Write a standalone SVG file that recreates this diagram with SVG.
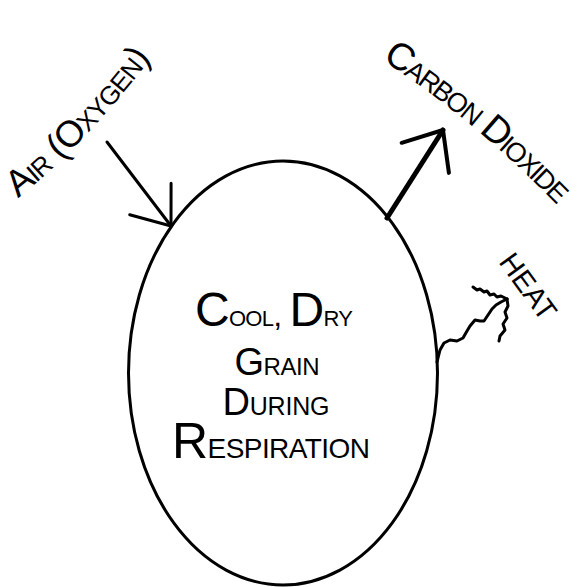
<svg xmlns="http://www.w3.org/2000/svg" width="583" height="587" viewBox="0 0 583 587">
<style>
.t{font-family:"Liberation Sans",Arial,sans-serif;font-variant:small-caps;fill:#000}
.ln{fill:none;stroke:#000;stroke-linecap:round;stroke-linejoin:round}
</style>
<defs>
<marker id="ahThin" markerUnits="userSpaceOnUse" markerWidth="80" markerHeight="80" viewBox="-40 -40 80 80" refX="0" refY="0" orient="auto">
<path d="M-34,-26 L0,0 L-34,26" fill="none" stroke="#000" stroke-width="3" stroke-linecap="round" stroke-linejoin="round"/>
</marker>
<marker id="ahThick" markerUnits="userSpaceOnUse" markerWidth="80" markerHeight="80" viewBox="-40 -40 80 80" refX="0" refY="0" orient="auto">
<path d="M-33,-28 L0,0 L-33,28" fill="none" stroke="#000" stroke-width="4" stroke-linecap="round" stroke-linejoin="round"/>
</marker>
<path id="pAir" d="M18,198 Q84,146 156,52"/>
<path id="pCO2" d="M382,60 Q474,119 562,210"/>
</defs>
<g id="grain">
<ellipse cx="283" cy="373" rx="154.5" ry="212" class="ln" stroke-width="3"/>
<text class="t" x="274" y="326" font-size="32" text-anchor="middle" textLength="158"><tspan font-size="48">C</tspan>ool, <tspan font-size="48">D</tspan>ry</text>
<text class="t" x="277" y="375" font-size="34" text-anchor="middle" textLength="85"><tspan font-size="38">G</tspan>rain</text>
<text class="t" x="276" y="415" font-size="36" text-anchor="middle" textLength="107"><tspan font-size="38">D</tspan>uring</text>
<text class="t" x="271" y="458" font-size="40" text-anchor="middle" textLength="198"><tspan font-size="50">R</tspan>espiration</text>
</g>
<g id="air">
<text class="t" font-size="37"><textPath href="#pAir" textLength="194">Air (Oxygen)</textPath></text>
</g>
<g id="co2">
<text class="t" font-size="38"><textPath href="#pCO2" textLength="228">Carbon Dioxide</textPath></text>
</g>
<g id="heat">
<text class="t" font-size="29" transform="translate(498,262) rotate(54)">HEAT</text>
</g>
<g id="connectors">
<line class="ln" x1="107" y1="142" x2="171" y2="226" stroke-width="3" marker-end="url(#ahThin)"/>
<line class="ln" x1="387" y1="218" x2="443" y2="130" stroke-width="5" marker-end="url(#ahThick)"/>
<path class="ln" stroke-width="3" d="M437,362 L440,350 L444,343 L450,340 L457,341 L463,338 L467,331 L470,326 L475,320 L480,321 L484,321 L488,315 L492,309 L496,305 L501,302 L507,299"/>
<path class="ln" stroke-width="3" d="M473,287 L477,290 L480,289 L484,292 L487,291 L490,295 L494,294 L497,297 L501,296 L507,299"/>
<path class="ln" stroke-width="3" d="M507,299 L508,306 L505,312 L507,318 L503,324 L505,330 L500,336 L499,341"/>
</g>
</svg>
